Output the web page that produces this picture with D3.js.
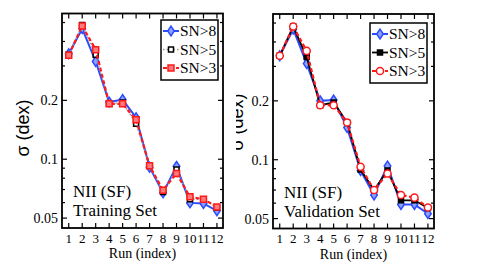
<!DOCTYPE html>
<html>
<head>
<meta charset="utf-8">
<script src="https://cdn.jsdelivr.net/npm/d3@7"></script>
<style>
  body { margin: 0; background: #fff; }
  svg { display: block; }
</style>
</head>
<body>
<div id="chart"></div>
<script>
// ── data ──
const runs = [1, 2, 3, 4, 5, 6, 7, 8, 9, 10, 11, 12];
const seriesNames = ["SN>8", "SN>5", "SN>3"];

const trainSN8 = [0.346, 0.465, 0.316, 0.196, 0.202, 0.163, 0.091, 0.0673, 0.092, 0.0598, 0.0594, 0.0545];
const trainSN5 = [0.342, 0.486, 0.342, 0.192, 0.195, 0.152, 0.0926, 0.068, 0.0886, 0.0625, 0.0625, 0.0567];
const trainSN3 = [0.340, 0.480, 0.363, 0.192, 0.192, 0.159, 0.0926, 0.0695, 0.0846, 0.0642, 0.0625, 0.057];

const validSN8 = [0.340, 0.465, 0.310, 0.200, 0.202, 0.146, 0.088, 0.066, 0.093, 0.059, 0.059, 0.053];
const validSN5 = [0.340, 0.480, 0.335, 0.190, 0.196, 0.155, 0.089, 0.070, 0.088, 0.062, 0.062, 0.0567];
const validSN3 = [0.340, 0.480, 0.360, 0.190, 0.190, 0.155, 0.092, 0.070, 0.085, 0.066, 0.064, 0.057];

const yMajor = [0.05, 0.1, 0.2];
const yMinor = [0.06, 0.07, 0.08, 0.09, 0.3, 0.4, 0.5];
const yDomain = [0.0445, 0.556];

const W = 480, H = 262;
const SERIF = "'Liberation Serif', 'Times New Roman', serif";
const SANS = "'Liberation Sans', Arial, sans-serif";

const svg = d3.select("#chart").append("svg")
  .attr("width", W).attr("height", H)
  .attr("viewBox", `0 0 ${W} ${H}`);
svg.append("rect").attr("width", W).attr("height", H).attr("fill", "#fff");

// the right panel's y title is partly covered by the left figure in the original
svg.append("clipPath").attr("id", "rclip")
  .append("rect").attr("x", 236).attr("y", 0).attr("width", W).attr("height", H);

// tall diamond, a bit narrower than it is high
const tallDiamond = {
  draw(ctx, size) {
    const r = Math.sqrt(size / 2);
    const h = r * 1.25, w = r * 0.85;
    ctx.moveTo(0, -h); ctx.lineTo(w, 0); ctx.lineTo(0, h); ctx.lineTo(-w, 0); ctx.closePath();
  }
};

function drawPanel(o) {
  const x = d3.scaleLinear().domain([0.5, 12.45]).range([o.left, o.right]);
  const y = d3.scaleLog().domain(yDomain).range([o.bottom, o.top]);
  const g = svg.append("g");

  // series lines + markers
  o.series.forEach(s => {
    const pts = runs.map((r, i) => [r, s.values[i]]);
    g.append("path")
      .datum(pts)
      .attr("fill", "none")
      .attr("stroke", s.stroke)
      .attr("stroke-width", s.width)
      .attr("stroke-dasharray", s.dash)
      .attr("d", d3.line().x(d => x(d[0])).y(d => y(d[1])));
    g.selectAll(null).data(pts).enter().append("path")
      .attr("transform", d => `translate(${x(d[0])},${y(d[1])})`)
      .attr("d", d3.symbol().type(s.symbol).size(s.size))
      .attr("fill", s.fill)
      .attr("stroke", s.mstroke)
      .attr("stroke-width", 1.5);
  });

  // ticks (inward on all four sides)
  const tk = g.append("g").attr("stroke", "#000").attr("stroke-width", 1.2);
  yMajor.forEach(v => {
    tk.append("line").attr("x1", o.left).attr("x2", o.left + 5).attr("y1", y(v)).attr("y2", y(v));
    tk.append("line").attr("x1", o.right).attr("x2", o.right - 5).attr("y1", y(v)).attr("y2", y(v));
  });
  yMinor.forEach(v => {
    tk.append("line").attr("x1", o.left).attr("x2", o.left + 3).attr("y1", y(v)).attr("y2", y(v));
    tk.append("line").attr("x1", o.right).attr("x2", o.right - 3).attr("y1", y(v)).attr("y2", y(v));
  });
  runs.forEach(r => {
    tk.append("line").attr("x1", x(r)).attr("x2", x(r)).attr("y1", o.bottom).attr("y2", o.bottom - 5);
    tk.append("line").attr("x1", x(r)).attr("x2", x(r)).attr("y1", o.top).attr("y2", o.top + 5);
  });

  // frame
  g.append("rect")
    .attr("x", o.left).attr("y", o.top)
    .attr("width", o.right - o.left).attr("height", o.bottom - o.top)
    .attr("fill", "none").attr("stroke", "#000").attr("stroke-width", 1.8);

  // tick labels
  g.selectAll(null).data(yMajor).enter().append("text")
    .attr("x", o.left - 4).attr("y", d => y(d)).attr("dy", "0.35em")
    .attr("text-anchor", "end")
    .attr("font-family", SERIF).attr("font-size", 14)
    .text(d => String(d));
  g.selectAll(null).data(runs).enter().append("text")
    .attr("x", d => x(d)).attr("y", o.bottom + 14.5)
    .attr("text-anchor", "middle")
    .attr("font-family", SERIF).attr("font-size", 13)
    .text(d => d);

  // axis titles
  g.append("text")
    .attr("x", (o.left + o.right) / 2).attr("y", o.bottom + 30)
    .attr("text-anchor", "middle")
    .attr("font-family", SERIF).attr("font-size", 14)
    .text("Run (index)");
  g.append("g")
    .attr("clip-path", o.ylabClip)
    .append("text")
    .attr("transform", `translate(${o.ylabX},${o.ylabY}) rotate(-90)`)
    .attr("text-anchor", "middle")
    .attr("font-family", SANS).attr("font-size", 18)
    .text("σ (dex)");

  // annotation
  o.note.forEach((t, i) => {
    g.append("text")
      .attr("x", o.left + 11).attr("y", o.bottom - 31 + i * 19)
      .attr("font-family", SERIF).attr("font-size", 17)
      .text(t);
  });

  // legend
  const lg = g.append("g").attr("transform", `translate(${o.legX},${o.legY})`);
  lg.append("rect").attr("width", 57).attr("height", 60)
    .attr("fill", "#fff").attr("stroke", "#000").attr("stroke-width", 1.5);
  o.series.forEach((s, i) => {
    const ry = 11 + i * 18.5;
    lg.append("line").attr("x1", 2).attr("x2", 18).attr("y1", ry).attr("y2", ry)
      .attr("stroke", s.stroke).attr("stroke-width", s.width).attr("stroke-dasharray", s.dash);
    lg.append("path").attr("transform", `translate(10,${ry})`)
      .attr("d", d3.symbol().type(s.symbol).size(s.size))
      .attr("fill", s.fill).attr("stroke", s.mstroke).attr("stroke-width", 1.5);
    lg.append("text").attr("x", 19).attr("y", ry).attr("dy", "0.35em")
      .attr("font-family", SERIF).attr("font-size", 15.5)
      .text(seriesNames[i]);
  });
}

drawPanel({
  left: 62, right: 223, top: 13.5, bottom: 228,
  ylabX: 29, ylabY: 128, ylabClip: null,
  legX: 161, legY: 20,
  note: ["NII (SF)", "Training Set"],
  series: [
    { values: trainSN8, stroke: "#2b4bff", width: 2, dash: null, symbol: tallDiamond, size: 30, fill: "#8ea0ff", mstroke: "#2b4bff" },
    { values: trainSN5, stroke: "#999", width: 1.5, dash: "1.5,2", symbol: d3.symbolSquare, size: 25, fill: "#fff", mstroke: "#000" },
    { values: trainSN3, stroke: "#ff1a1a", width: 2.2, dash: "4,2.5", symbol: d3.symbolSquare, size: 36, fill: "#ff7a7a", mstroke: "#ff1a1a" }
  ]
});

drawPanel({
  left: 273, right: 434, top: 14, bottom: 228.5,
  ylabX: 243, ylabY: 122, ylabClip: "url(#rclip)",
  legX: 370, legY: 23,
  note: ["NII (SF)", "Validation Set"],
  series: [
    { values: validSN8, stroke: "#2b4bff", width: 2, dash: null, symbol: tallDiamond, size: 30, fill: "#8ea0ff", mstroke: "#2b4bff" },
    { values: validSN5, stroke: "#000", width: 1.8, dash: null, symbol: d3.symbolSquare, size: 25, fill: "#000", mstroke: "#000" },
    { values: validSN3, stroke: "#ff1a1a", width: 2.2, dash: "4,2.5", symbol: d3.symbolCircle, size: 40, fill: "#fff", mstroke: "#ff1a1a" }
  ]
});
</script>
</body>
</html>
